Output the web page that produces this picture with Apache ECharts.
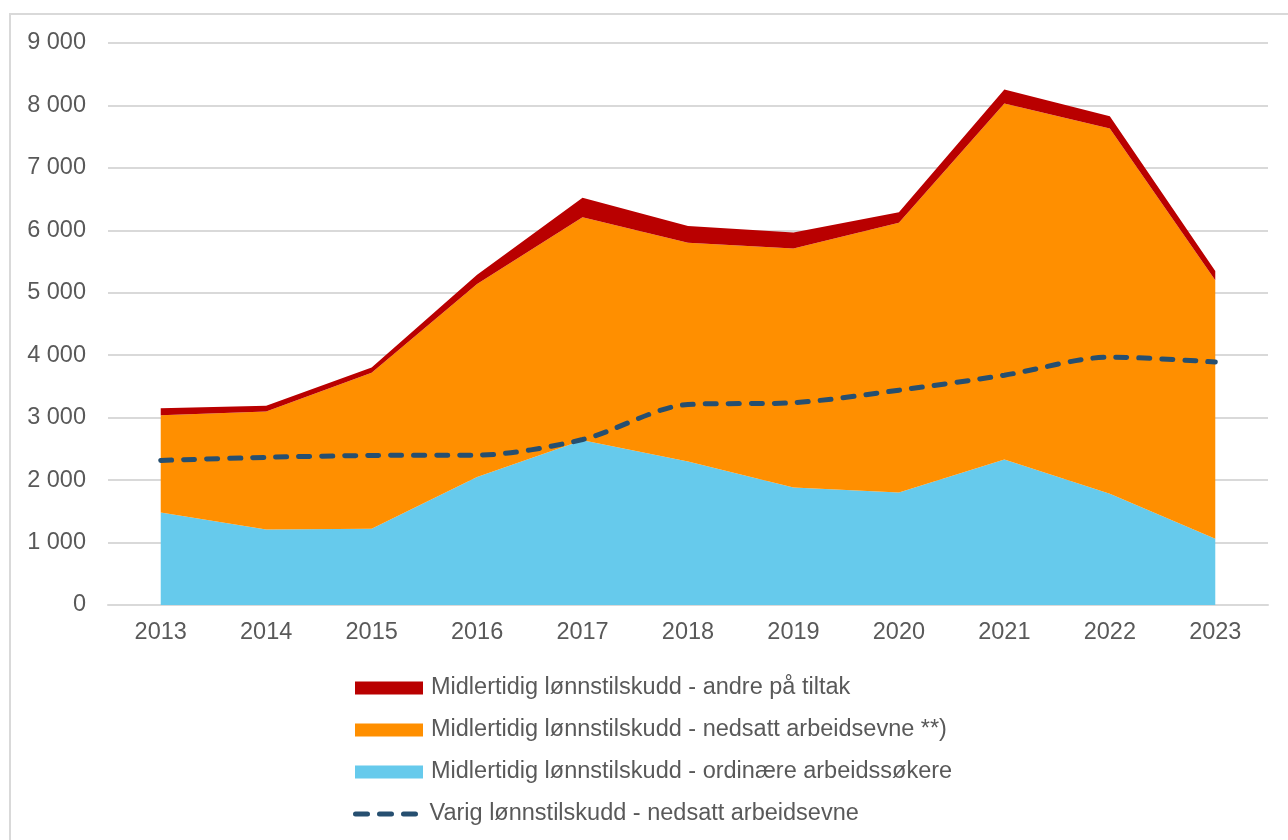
<!DOCTYPE html>
<html>
<head>
<meta charset="utf-8">
<script src="https://cdn.jsdelivr.net/npm/echarts@6/dist/echarts.min.js"></script>
<style>
  html, body { margin: 0; padding: 0; background: #fff; overflow: hidden; }
  #frame { position: absolute; left: 9px; top: 13px; width: 1300px; height: 850px; border: 2px solid #d9d9d9; box-sizing: border-box; }
  #chart { position: absolute; left: 0; top: 0; width: 1288px; height: 840px; }
</style>
</head>
<body>
<div id="frame"></div>
<div id="chart"></div>
<script>
// årstall
var years = ['2013', '2014', '2015', '2016', '2017', '2018', '2019', '2020', '2021', '2022', '2023'];
// midlertidig lønnstilskudd, stablet
var ordinaere = [1480, 1210, 1220, 2050, 2640, 2300, 1880, 1800, 2330, 1780, 1060];
var nedsatt = [1560, 1890, 2500, 3090, 3570, 3500, 3830, 4320, 5700, 5850, 4140];
var andre = [110, 90, 85, 150, 310, 270, 255, 170, 225, 195, 150];
// varig lønnstilskudd (linje)
var varig = [2315, 2365, 2395, 2400, 2650, 3210, 3240, 3440, 3680, 3970, 3890];

var names = [
    'Midlertidig lønnstilskudd - andre på tiltak',
    'Midlertidig lønnstilskudd - nedsatt arbeidsevne **)',
    'Midlertidig lønnstilskudd - ordinære arbeidssøkere',
    'Varig lønnstilskudd - nedsatt arbeidsevne'
];
var colors = ['#B90000', '#FF8F00', '#66CAEC', '#264F70'];
var fontSize = 23.5;

// three rounded dashes for the legend of the dashed line
var dashIcon = 'path://M2.5,0 L14.5,0 A2.5,2.5 0 0 1 14.5,5 L2.5,5 A2.5,2.5 0 0 1 2.5,0 Z' +
    'M26.5,0 L38.5,0 A2.5,2.5 0 0 1 38.5,5 L26.5,5 A2.5,2.5 0 0 1 26.5,0 Z' +
    'M50.5,0 L62.5,0 A2.5,2.5 0 0 1 62.5,5 L50.5,5 A2.5,2.5 0 0 1 50.5,0 Z';

function areaSeries(name, data, color) {
    return {
        name: name,
        type: 'line',
        stack: 'total',
        data: data,
        showSymbol: false,
        symbol: 'none',
        lineStyle: { width: 0, color: color },
        itemStyle: { color: color },
        areaStyle: { color: color, opacity: 1 },
        emphasis: { disabled: true }
    };
}

var chartDom = document.getElementById('chart');
var myChart = echarts.init(chartDom);
var option = {
    animation: false,
    textStyle: { fontFamily: 'Liberation Sans, Arial, sans-serif' },
    grid: { left: 108, right: 20, top: 43, bottom: 235 },
    legend: [
        {
            orient: 'vertical',
            left: 350,
            top: 671,
            itemWidth: 68,
            itemHeight: 13,
            itemGap: 18,
            textStyle: { fontSize: fontSize, color: '#595959', padding: [0, 0, 0, 3] },
            data: [
                { name: names[0], icon: 'rect' },
                { name: names[1], icon: 'rect' },
                { name: names[2], icon: 'rect' }
            ]
        },
        {
            orient: 'vertical',
            left: 348,
            top: 797,
            itemWidth: 66,
            itemHeight: 5,
            textStyle: { fontSize: fontSize, color: '#595959', padding: [0, 0, 0, 6] },
            data: [
                { name: names[3], icon: dashIcon, itemStyle: { color: colors[3], borderWidth: 0 } }
            ]
        }
    ],
    xAxis: {
        type: 'category',
        data: years,
        boundaryGap: true,
        axisLine: { show: true, lineStyle: { color: '#d9d9d9', width: 2 } },
        axisTick: { show: false },
        axisLabel: { fontSize: fontSize, color: '#595959', margin: 16 }
    },
    yAxis: {
        type: 'value',
        min: 0,
        max: 9000,
        interval: 1000,
        axisLine: { show: false },
        axisTick: { show: false },
        splitLine: { lineStyle: { color: '#d9d9d9', width: 2 } },
        axisLabel: {
            fontSize: fontSize,
            color: '#595959',
            margin: 22,
            formatter: function (v) {
                return String(v).replace(/\B(?=(\d{3})+(?!\d))/g, ' ');
            }
        }
    },
    series: [
        areaSeries(names[2], ordinaere, colors[2]),
        areaSeries(names[1], nedsatt, colors[1]),
        areaSeries(names[0], andre, colors[0]),
        {
            name: names[3],
            type: 'line',
            data: varig,
            smooth: 0.3,
            showSymbol: false,
            symbol: 'none',
            z: 5,
            itemStyle: { color: colors[3] },
            lineStyle: { color: colors[3], width: 5, type: [11, 12], cap: 'round' },
            emphasis: { disabled: true }
        }
    ]
};
myChart.setOption(option);
</script>
</body>
</html>
